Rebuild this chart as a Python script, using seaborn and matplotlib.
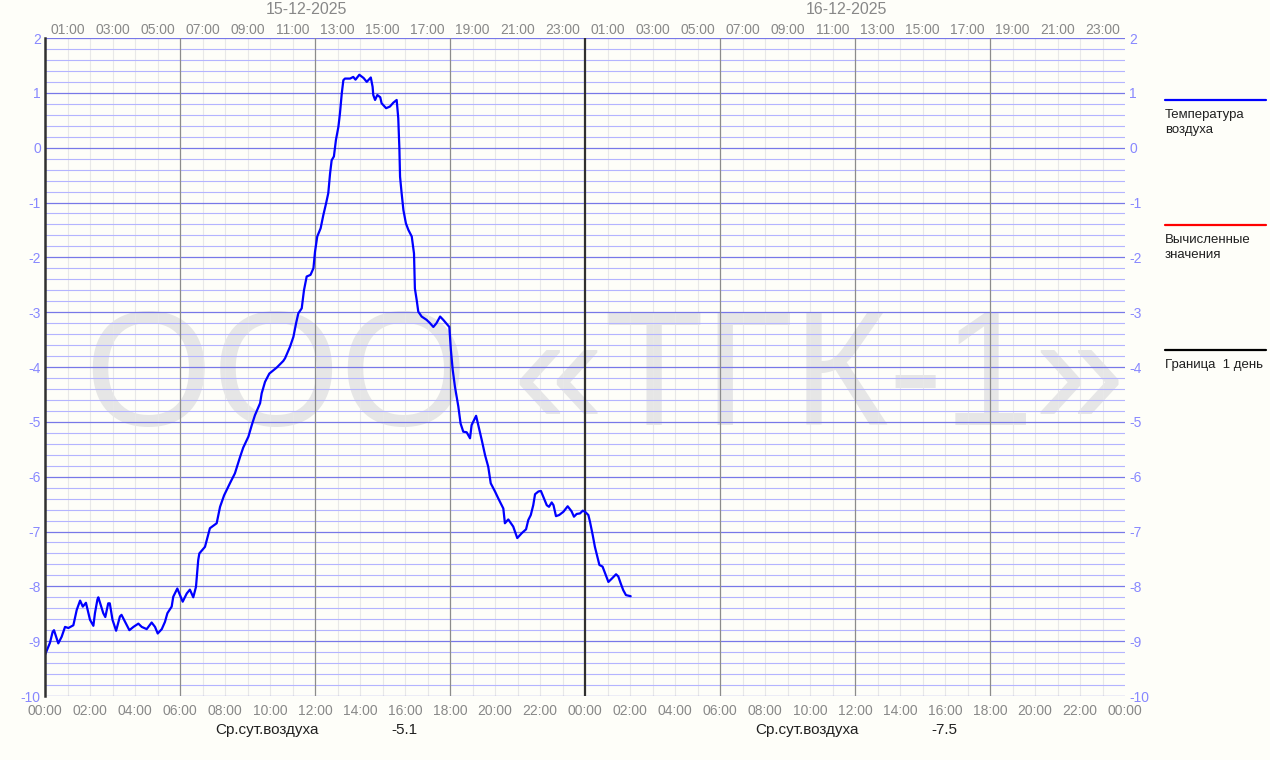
import numpy as np
import pandas as pd
import matplotlib
matplotlib.use("Agg")
import matplotlib.pyplot as plt
from matplotlib import font_manager
import seaborn as sns

# ---------------- data ----------------
hours = [0.0, 0.22, 0.34, 0.4, 0.59, 0.74, 0.89, 1.04, 1.26, 1.41, 1.56, 1.68, 1.82, 2.0, 2.15,
         2.22, 2.33, 2.37, 2.59, 2.68, 2.81, 2.88, 3.0, 3.16, 3.33, 3.4, 3.55, 3.75, 3.93, 4.15,
         4.3, 4.52, 4.74, 4.89, 5.01, 5.19, 5.33, 5.44, 5.63, 5.70, 5.88, 6.12, 6.30, 6.44, 6.59,
         6.71, 6.81, 6.86, 7.11, 7.33, 7.63, 7.78, 7.96, 8.22, 8.44, 8.67, 8.81, 9.04, 9.19, 9.33,
         9.56, 9.63, 9.78, 9.97, 10.3, 10.59, 10.67, 10.89, 11.04, 11.16, 11.26, 11.41, 11.51,
         11.63, 11.8, 11.93, 12.0, 12.1, 12.25, 12.37, 12.49, 12.59, 12.67, 12.74, 12.84, 12.93,
         13.04, 13.11, 13.19, 13.26, 13.33, 13.56, 13.7, 13.8, 13.97, 14.16, 14.3, 14.48, 14.56,
         14.59, 14.67, 14.77, 14.9, 14.96, 15.16, 15.33, 15.48, 15.63, 15.70, 15.75, 15.78, 15.85,
         15.93, 16.04, 16.15, 16.3, 16.4, 16.44, 16.52, 16.59, 16.74, 16.96, 17.11, 17.26, 17.4,
         17.56, 17.7, 17.97, 18.04, 18.12, 18.22, 18.37, 18.47, 18.59, 18.74, 18.89, 18.96, 19.16,
         19.41, 19.56, 19.70, 19.81, 20.0, 20.15, 20.37, 20.44, 20.59, 20.81, 20.99, 21.19, 21.38,
         21.48, 21.59, 21.70, 21.78, 21.93, 22.04, 22.18, 22.30, 22.4, 22.52, 22.6, 22.71, 22.85,
         23.04, 23.23, 23.4, 23.51, 23.63, 23.78, 23.9, 24.0, 24.15, 24.22, 24.34, 24.44, 24.55,
         24.64, 24.78, 24.89, 25.04, 25.19, 25.38, 25.48, 25.59, 25.70, 25.82, 26.03]
temperature = [-9.25, -9.03, -8.83, -8.80, -9.04, -8.92, -8.74, -8.76, -8.71, -8.43, -8.26, -8.37,
               -8.30, -8.61, -8.72, -8.49, -8.24, -8.20, -8.49, -8.56, -8.31, -8.31, -8.61, -8.81,
               -8.55, -8.52, -8.64, -8.80, -8.74, -8.68, -8.74, -8.78, -8.66, -8.74, -8.86, -8.78,
               -8.65, -8.49, -8.37, -8.19, -8.04, -8.28, -8.13, -8.06, -8.20, -8.01, -7.52, -7.40,
               -7.28, -6.94, -6.85, -6.55, -6.34, -6.12, -5.94, -5.64, -5.47, -5.27, -5.06, -4.88,
               -4.66, -4.48, -4.27, -4.12, -4.01, -3.89, -3.84, -3.63, -3.45, -3.20, -3.02, -2.93,
               -2.60, -2.35, -2.32, -2.20, -1.90, -1.62, -1.47, -1.23, -1.02, -0.83, -0.47, -0.23,
               -0.16, 0.14, 0.38, 0.63, 0.99, 1.23, 1.26, 1.26, 1.29, 1.24, 1.33, 1.27, 1.20, 1.28,
               1.11, 0.96, 0.87, 0.96, 0.92, 0.81, 0.72, 0.75, 0.82, 0.87, 0.54, -0.01, -0.53, -0.83,
               -1.14, -1.38, -1.50, -1.62, -1.93, -2.57, -2.78, -2.99, -3.08, -3.14, -3.20, -3.27,
               -3.20, -3.08, -3.14, -3.27, -3.69, -4.05, -4.36, -4.72, -5.03, -5.18, -5.19, -5.30,
               -5.06, -4.89, -5.33, -5.61, -5.82, -6.12, -6.27, -6.40, -6.58, -6.85, -6.78, -6.91,
               -7.12, -7.03, -6.96, -6.79, -6.70, -6.52, -6.32, -6.27, -6.26, -6.40, -6.52, -6.55,
               -6.47, -6.52, -6.72, -6.70, -6.64, -6.54, -6.63, -6.73, -6.68, -6.67, -6.62, -6.64,
               -6.70, -6.82, -7.06, -7.28, -7.46, -7.61, -7.64, -7.76, -7.92, -7.86, -7.78, -7.82,
               -7.95, -8.07, -8.16, -8.18]

bottom_tick_labels = ["00:00", "02:00", "04:00", "06:00", "08:00", "10:00", "12:00", "14:00",
                      "16:00", "18:00", "20:00", "22:00"] * 2 + ["00:00"]
top_tick_labels = ["01:00", "03:00", "05:00", "07:00", "09:00", "11:00", "13:00", "15:00",
                   "17:00", "19:00", "21:00", "23:00"] * 2
y_tick_labels = ["-10", "-9", "-8", "-7", "-6", "-5", "-4", "-3", "-2", "-1", "0", "1", "2"]
dates = ["15-12-2025", "16-12-2025"]
avg_label = "Ср.сут.воздуха"
avg_values = ["-5.1", "-7.5"]
legend_labels = ["Температура\nвоздуха", "Вычисленные\nзначения", "Граница  1 день"]
legend_colors = ["#0000FF", "#FF0000", "#000000"]
watermark = "ООО «ТГК-1»"

df = pd.DataFrame({"hour": hours, "temp": temperature})

# ---------------- style ----------------
sns.set_theme(style="white")
plt.rcParams["font.family"] = ["Liberation Sans", "DejaVu Sans"]

W, H = 1270, 760
bg = "#FEFEF9"
fig = plt.figure(figsize=(W / 100, H / 100), dpi=100, facecolor=bg)
ax = fig.add_axes([45 / W, (H - 696) / H, (1125 - 45) / W, (696 - 38) / H])
ax.set_facecolor(bg)
ax.set_xlim(0, 48)
ax.set_ylim(-10, 2)

# watermark: pick a narrow font if available, fit to ~1030 px width
wm_family = "Liberation Sans"
for fam in ["Liberation Sans Narrow", "DejaVu Sans Condensed", "Liberation Sans"]:
    try:
        font_manager.findfont(font_manager.FontProperties(family=fam),
                              fallback_to_default=False)
        wm_family = fam
        break
    except Exception:
        continue
wm = ax.text(0.5185, 0.475, watermark, transform=ax.transAxes, ha="center", va="center",
             fontsize=120, color="#E6E6E6", family=wm_family, zorder=0.2)
renderer = fig.canvas.get_renderer()
wpx = wm.get_window_extent(renderer).width
wm.set_fontsize(min(140, 120 * 1040.0 / wpx))

# grid lines
for v in np.arange(-10, 2.001, 0.2):
    if abs(v - round(v)) < 1e-6:
        ax.axhline(v, color="#7878E8", lw=0.9, zorder=1.2)
    else:
        ax.axhline(v, color="#B4B4FF", lw=0.8, zorder=1)
for h in range(0, 49):
    if h == 24:
        ax.axvline(h, color="#303030", lw=1.6, zorder=1.5)
    elif h % 6 == 0 and h not in (0, 48):
        ax.axvline(h, color="#8C8C8C", lw=0.9, zorder=1.3)
    elif h not in (0, 48):
        ax.axvline(h, color="#E8E8E8", lw=0.8, zorder=0.9)

# data line
sns.lineplot(data=df, x="hour", y="temp", ax=ax, color="#0000FF", lw=1.6, zorder=3)

# spines
for s in ["top", "right", "bottom"]:
    ax.spines[s].set_visible(False)
ax.spines["left"].set_color("#303030")
ax.spines["left"].set_linewidth(1.8)
ax.spines["left"].set_zorder(4)

ax.set_xlabel("")
ax.set_ylabel("")

# bottom ticks
ax.set_xticks(range(0, 49, 2))
ax.set_xticklabels(bottom_tick_labels)
ax.tick_params(axis="x", bottom=True, length=0, pad=6, labelsize=10, labelcolor="#888888")
# top ticks
axt = ax.secondary_xaxis("top")
axt.set_xticks(range(1, 48, 2))
axt.set_xticklabels(top_tick_labels)
axt.tick_params(length=0, pad=1, labelsize=10, labelcolor="#888888")
axt.spines["top"].set_visible(False)

# y ticks left and right
ax.set_yticks(range(-10, 3))
ax.set_yticklabels(y_tick_labels)
ax.tick_params(axis="y", left=True, right=True, labelleft=True, labelright=True, length=0,
               pad=3, labelsize=10, labelcolor="#8888FF")

# date labels
for i, d in enumerate(dates):
    ax.text(11.6 + 24 * i, 2.0 + 28 / 54.83, d, ha="center", va="center", fontsize=11.5,
            color="#888888", clip_on=False)

# daily averages
for i, val in enumerate(avg_values):
    ax.text(7.55 + 24 * i, -10 - 34 / 54.83, avg_label, ha="left", va="center", fontsize=11,
            color="#202020", clip_on=False)
    ax.text(15.4 + 24 * i, -10 - 34 / 54.83, val, ha="left", va="center", fontsize=11,
            color="#202020", clip_on=False)

# legend at right
for i, (lab, col) in enumerate(zip(legend_labels, legend_colors)):
    ly = 100 + 125 * i
    fig.add_artist(plt.Line2D([1165 / W, 1266 / W], [(H - ly) / H, (H - ly) / H],
                              color=col, lw=1.6))
    fig.text(1165 / W, (H - ly - 9) / H, lab, ha="left", va="top", fontsize=9.5,
             color="#202020", linespacing=1.3)

fig.savefig("out.png", dpi=100, facecolor=bg)
